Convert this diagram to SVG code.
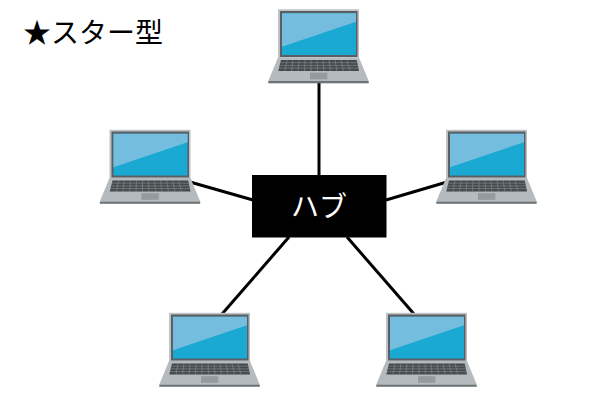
<svg xmlns="http://www.w3.org/2000/svg" xmlns:xlink="http://www.w3.org/1999/xlink" width="600" height="400" viewBox="0 0 600 400">
<style>
.t{font-family:"Noto Sans CJK JP","Noto Sans CJK SC",sans-serif}
.c{stroke:#000;stroke-width:3;fill:none}
.r{fill:#45494c}
.g{stroke:#80868a;stroke-width:.7;fill:none}
</style>
<defs>
<g id="laptop">
<rect x="278" y="9.300" width="81" height="48.500" fill="#bcc2c5"/>
<rect x="280" y="11" width="77.500" height="46" fill="#595f62"/>
<rect x="282" y="13.300" width="74" height="41.700" fill="#1aa9d3"/>
<path d="M282 13.300H356V21.700L282 46.700Z" fill="#74bddf"/>
<path d="M278 57.500H359L368.700 81H268.300Z" fill="#b4babd"/>
<path class="r" d="M281 60H356.700L359 71H278.300Z"/>
<path class="g" d="M280.400 62.700H357.300M279.800 65.400H357.900M279.200 68.100H358.500M287 60L285 71M293 60L291.500 71M299 60L298 71M305 60L304.500 71M311 60L311 71M317 60L317.500 71M323 60L324 71M329 60L330.500 71M335 60L337 71M341 60L343.500 71M347 60L350 71"/>
<rect x="310" y="72.700" width="17.300" height="6.600" fill="#949a9d"/>
<rect x="268.300" y="81" width="100.400" height="2.300" fill="#6d7376"/>
</g>
</defs>
<g id="connectors">
<line class="c" x1="319" y1="83" x2="319" y2="175"/>
<line class="c" x1="190" y1="182" x2="253" y2="200"/>
<line class="c" x1="447" y1="182" x2="386" y2="200"/>
<line class="c" x1="222" y1="314" x2="289" y2="237"/>
<line class="c" x1="414" y1="314" x2="347" y2="237"/>
</g>
<g id="laptop-top"><use href="#laptop"/></g>
<g id="laptop-left"><use href="#laptop" x="-168.500" y="120.500"/></g>
<g id="laptop-right"><use href="#laptop" x="168" y="120.500"/></g>
<g id="laptop-bottom-left"><use href="#laptop" x="-109" y="303.500"/></g>
<g id="laptop-bottom-right"><use href="#laptop" x="108" y="303.500"/></g>
<g id="hub">
<rect x="252" y="175" width="134.500" height="62.500" fill="#000"/>
<text class="t" x="319" y="217" font-size="28" fill="#fff" text-anchor="middle">ハブ</text>
</g>
<text class="t" x="23" y="43" font-size="28" fill="#000">★スター型</text>
</svg>
